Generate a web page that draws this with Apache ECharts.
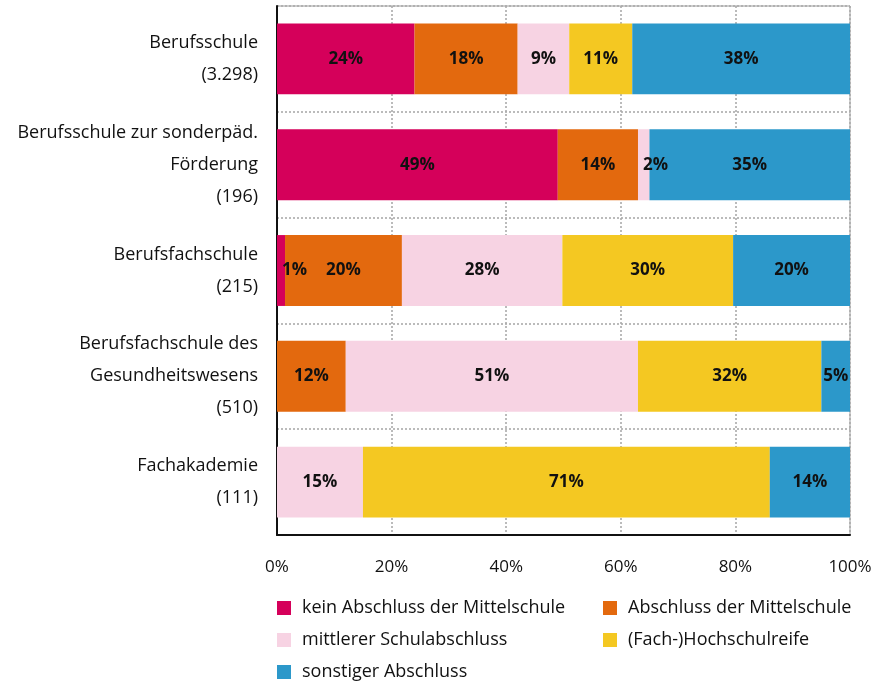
<!DOCTYPE html>
<html>
<head>
<meta charset="utf-8">
<script src="https://cdn.jsdelivr.net/npm/echarts@6/dist/echarts.min.js"></script>
<style>
  html, body { margin: 0; padding: 0; background: #fff; }
  #chart { width: 875px; height: 682px; }
</style>
</head>
<body>
<div id="chart"></div>
<script>
// School types (top to bottom) and number of pupils per type
const schoolTypes = [
  'Berufsschule',
  'Berufsschule zur sonderpäd.\nFörderung',
  'Berufsfachschule',
  'Berufsfachschule des\nGesundheitswesens',
  'Fachakademie'
];
const pupilCounts = ['3.298', '196', '215', '510', '111'];

// Share of each prior qualification, in percent, per school type
const keinAbschluss   = [24, 49, 1.4, 0, 0];
const mittelschule    = [18, 14, 20.4, 12, 0];
const mittlererAbschl = [9, 2, 28, 51, 15];
const hochschulreife  = [11, 0, 29.8, 32, 71];
const sonstiger       = [38, 35, 20.4, 5, 14];

const seriesNames = [
  'kein Abschluss der Mittelschule',
  'Abschluss der Mittelschule',
  'mittlerer Schulabschluss',
  '(Fach-)Hochschulreife',
  'sonstiger Abschluss'
];
const seriesValues = [keinAbschluss, mittelschule, mittlererAbschl, hochschulreife, sonstiger];
const seriesColors = ['#D5005A', '#E3690E', '#F7D3E3', '#F4C822', '#2C98CA'];

const xTicks = [0, 20, 40, 60, 80, 100];

const FONT = '"Open Sans", sans-serif';

const chart = echarts.init(document.getElementById('chart'), null, { renderer: 'canvas' });

const series = seriesNames.map((name, i) => ({
  name: name,
  type: 'bar',
  stack: 'total',
  barCategoryGap: '33%',
  itemStyle: { color: seriesColors[i] },
  data: seriesValues[i].map(v => {
    const item = { value: v };
    // very narrow segments carry their label starting at the segment's left edge
    if (v > 0 && v < 3) {
      item.label = { position: 'insideLeft', distance: 5 };
    }
    return item;
  }),
  label: {
    show: true,
    position: 'inside',
    color: '#111',
    fontFamily: FONT,
    fontWeight: 'bold',
    fontSize: 17,
    formatter: p => (p.value > 0 ? Math.round(p.value) + '%' : '')
  }
}));

const legendText = { color: '#111', fontSize: 18, lineHeight: 18, fontFamily: FONT, padding: [0, 0, 0, 6] };

chart.setOption({
  animation: false,
  backgroundColor: '#fff',
  textStyle: { fontFamily: FONT },
  grid: {
    left: 277, right: 25, top: 6, bottom: 147,
    show: true, borderColor: '#9a9a9a', borderWidth: 1
  },
  xAxis: {
    type: 'value',
    min: 0, max: 100, interval: 20,
    axisLine: { show: true, lineStyle: { color: '#111', width: 2 } },
    axisTick: { show: false },
    axisLabel: {
      color: '#111', fontSize: 17, fontFamily: FONT, margin: 24,
      formatter: v => (xTicks.includes(v) ? v + '%' : '')
    },
    splitLine: { show: true, lineStyle: { color: '#ababab', width: 1.6, type: [2, 2] } }
  },
  yAxis: {
    type: 'category',
    inverse: true,
    data: schoolTypes.map((s, i) => s + '\n(' + pupilCounts[i] + ')'),
    axisLine: { show: true, onZero: false, lineStyle: { color: '#111', width: 2 } },
    axisTick: { show: false },
    axisLabel: {
      color: '#111', fontSize: 18, fontFamily: FONT, margin: 19,
      lineHeight: 32, align: 'right', padding: [0, 0, 6, 0]
    },
    splitLine: { show: true, lineStyle: { color: '#ababab', width: 1.6, type: [2, 2] } }
  },
  legend: [
    {
      orient: 'vertical', left: 277, top: 599, padding: 0,
      icon: 'rect', itemWidth: 14, itemHeight: 14, itemGap: 14,
      textStyle: legendText,
      data: [seriesNames[0], seriesNames[2], seriesNames[4]]
    },
    {
      orient: 'vertical', left: 603, top: 599, padding: 0,
      icon: 'rect', itemWidth: 14, itemHeight: 14, itemGap: 14,
      textStyle: legendText,
      data: [seriesNames[1], seriesNames[3]]
    }
  ],
  series: series
});
</script>
</body>
</html>
